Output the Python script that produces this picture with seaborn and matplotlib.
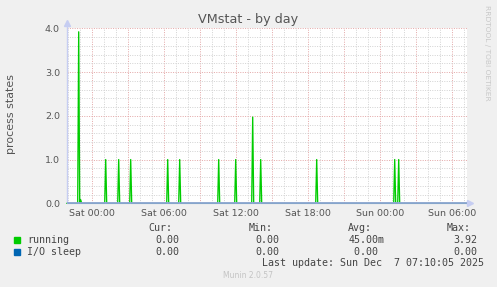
import numpy as np
import pandas as pd
import matplotlib
matplotlib.use("Agg")
import matplotlib.pyplot as plt
import seaborn as sns
from matplotlib.ticker import MultipleLocator, FuncFormatter

# ---------------- data (hours relative to Sat 00:00, 5-minute samples) ----------------
spike_times = ["Fri 22:55", "Fri 23:05", "Sat 01:10", "Sat 02:15", "Sat 03:15",
               "Sat 06:20", "Sat 07:20", "Sat 10:35", "Sat 12:00", "Sat 13:25",
               "Sat 14:05", "Sat 18:45", "Sun 01:15", "Sun 01:35"]
spike_values = [3.92, 0.08, 1.0, 1.0, 1.0, 1.0, 1.0, 1.0, 1.0, 1.97, 1.0, 1.0, 1.0, 1.0]
io_sleep_level = 0.0
series_names = ["running", "I/O sleep"]
series_colors = ["#00cc00", "#0066b3"]
xtick_labels = ["Sat 00:00", "Sat 06:00", "Sat 12:00", "Sat 18:00", "Sun 00:00", "Sun 06:00"]
stats_cur = ["0.00", "0.00"]
stats_min = ["0.00", "0.00"]
stats_avg = ["45.00m", "0.00 "]
stats_max = ["3.92", "0.00"]
last_update = "Last update: Sun Dec  7 07:10:05 2025"

day_offset = {"Fri": -24, "Sat": 0, "Sun": 24}

def to_hours(s):
    d, t = s.split()
    h, m = t.split(":")
    return day_offset[d] + int(h) + int(m) / 60.0

grid = np.round(np.arange(-25, 376) / 12.0, 6)   # Fri 21:55 .. Sun 07:15
running = pd.Series(0.0, index=grid)
for t, v in zip(spike_times, spike_values):
    running[round(to_hours(t), 6)] = v
df = pd.DataFrame({"hours": grid, "running": running.values,
                   "io": np.full(len(grid), io_sleep_level)})

# ---------------- figure ----------------
sns.set_style("white")
plt.rcParams["font.family"] = ["DejaVu Sans"]
W, H = 497, 287
fig = plt.figure(figsize=(W / 100, H / 100), dpi=100, facecolor="#f0f0f0")
x0, x1, ytop, ybot = 67, 467, 28.3, 203.3
ax = fig.add_axes([x0 / W, (H - ybot) / H, (x1 - x0) / W, (ybot - ytop) / H])
ax.set_facecolor("white")

px_per_h = 12.0
xmin = (x0 - 91.7) / px_per_h
xmax = xmin + (x1 - x0) / px_per_h
ax.set_xlim(xmin, xmax)
ax.set_ylim(0, 4.0)

# grid
ax.xaxis.set_major_locator(MultipleLocator(3))
ax.xaxis.set_minor_locator(MultipleLocator(1))
ax.yaxis.set_major_locator(MultipleLocator(1))
ax.yaxis.set_minor_locator(MultipleLocator(0.2))
ax.grid(which="minor", color="#d4d4d4", linestyle=(0, (1, 1.4)), linewidth=0.72)
ax.grid(which="major", color="#e4aaaa", linestyle=(0, (1, 1.4)), linewidth=0.72)
ax.set_axisbelow(True)

def xfmt(v, pos):
    k = int(round(v))
    if k % 6 == 0 and 0 <= k // 6 < len(xtick_labels):
        return xtick_labels[k // 6]
    return ""
ax.xaxis.set_major_formatter(FuncFormatter(xfmt))
ax.yaxis.set_major_formatter(FuncFormatter(lambda v, p: f"{v:.1f}"))
ax.tick_params(axis="both", which="major", length=1.6, width=0.7, color="#e2a2a2",
               labelsize=6.8, labelcolor="#555555", pad=2.6)
ax.tick_params(axis="both", which="minor", length=1.2, width=0.6, color="#cfcfcf")
ax.tick_params(axis="y", which="major", pad=3.5)

for s in ax.spines.values():
    s.set_visible(False)

# data lines
sns.lineplot(data=df, x="hours", y="running", color=series_colors[0], linewidth=0.95,
             ax=ax, legend=False, clip_on=False, zorder=2)
sns.lineplot(data=df, x="hours", y="io", color=series_colors[1], linewidth=0.8,
             alpha=0.45, ax=ax, legend=False, clip_on=False, zorder=3)
ax.set_xlabel("")
ax.set_ylabel("")

# axes with arrows
axis_c = "#c6cdf2"
ytop_arrow = 4.0 + (ytop - 23) / 43.75
ax.plot([xmin, xmin], [0, ytop_arrow], color=axis_c, lw=1.0, clip_on=False, zorder=4)
ax.plot([xmin], [ytop_arrow], marker="^", color=axis_c, ms=4, clip_on=False)
xr_arrow = (470 - 91.7) / px_per_h
ax.plot([xmin, xmax], [0, 0], color="#93a6d8", lw=1.3, clip_on=False, zorder=5,
        solid_capstyle="butt")
ax.plot([xmax, xr_arrow], [0, 0], color=axis_c, lw=1.0, clip_on=False, zorder=4)
ax.plot([xr_arrow], [0], marker=">", color=axis_c, ms=4, clip_on=False)

def fx(px):
    return px / W

def fy(py):
    return 1 - py / H

# title & labels
fig.text(fx(248), fy(23.5), "VMstat - by day", ha="center", va="baseline",
         fontsize=9.2, color="#555555")
fig.text(fx(11), fy(114), "process states", rotation=90, ha="center", va="center",
         fontsize=7.9, color="#555555")
fig.text(fx(487.5), fy(5), "RRDTOOL / TOBI OETIKER", rotation=270, ha="center", va="top",
         fontsize=5.4, color="#c8c8c8")

# legend block
mono = "DejaVu Sans Mono"
tc = "#444444"
fs = 7.2
for label, x in zip(["Cur:", "Min:", "Avg:", "Max:"], [149, 249, 348, 447]):
    fig.text(fx(x - 0.5), fy(227.7), label, family=mono, fontsize=fs, color=tc,
             ha="left", va="center")
rows_y = [240, 251.7]
for i, name in enumerate(series_names):
    y = rows_y[i]
    fig.patches.append(plt.Rectangle((fx(14), fy(y + 3)), 6 / W, 6 / H,
                                     transform=fig.transFigure, color=series_colors[i]))
    fig.text(fx(27), fy(y), name, family=mono, fontsize=fs, color=tc, ha="left", va="center")
    for val, xr in zip([stats_cur[i], stats_min[i], stats_avg[i], stats_max[i]],
                       [179.5, 279.5, 384.5, 477.5]):
        fig.text(fx(xr), fy(y), val, family=mono, fontsize=fs, color=tc,
                 ha="right", va="center")
fig.text(fx(483.5), fy(263.3), last_update, family=mono, fontsize=fs, color=tc,
         ha="right", va="center")
fig.text(fx(248), fy(276), "Munin 2.0.57", ha="center", va="center", fontsize=5.5,
         color="#c4c4c4")

fig.savefig("out.png", dpi=100, facecolor=fig.get_facecolor())
